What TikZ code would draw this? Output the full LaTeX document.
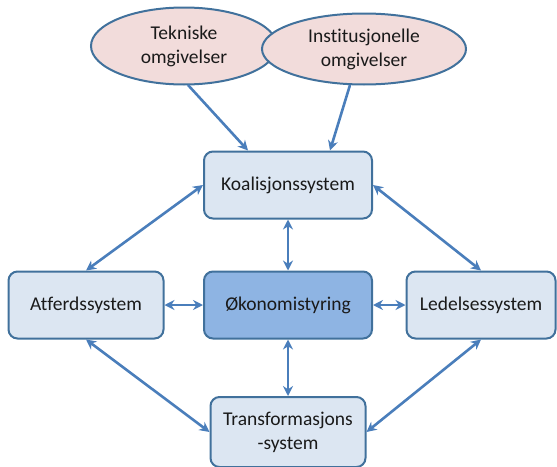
\documentclass[tikz,border=0pt]{standalone}
\usepackage{fontspec}
\setmainfont[Ligatures=NoCommon]{Carlito}
\usetikzlibrary{arrows.meta,shapes.geometric}
\definecolor{boxfill}{HTML}{DCE6F2}
\definecolor{boxdraw}{HTML}{41719C}
\definecolor{midfill}{HTML}{8EB4E3}
\definecolor{ellfill}{HTML}{F2DCDB}
\definecolor{arrowc}{HTML}{4A7EBB}
\definecolor{txt}{HTML}{1A1A1A}
\begin{document}
\begin{tikzpicture}[x=1pt,y=-1pt,
  sysbox/.style={draw=boxdraw,line width=2pt,fill=boxfill,rounded corners=9pt,
    minimum width=#1,minimum height=67pt,inner sep=0pt,align=center,text=txt,
    font=\fontsize{19.5}{24}\selectfont},
  sysbox/.default=168pt,
  env/.style={ellipse,draw=boxdraw,line width=2pt,fill=ellfill,inner sep=0pt,
    align=center,text=txt,font=\fontsize{19.5}{24}\selectfont},
  conn/.style={draw=arrowc,line width=2.6pt,-{Stealth[length=10pt,width=10pt]}},
  biconn/.style={draw=arrowc,line width=2.6pt,{Stealth[length=10pt,width=10pt]}-{Stealth[length=10pt,width=10pt]}}]
\useasboundingbox (0,0) rectangle (557,466);
\node[env,minimum width=186pt,minimum height=77pt] (tek) at (184,46) {Tekniske\\omgivelser};
\node[env,minimum width=204pt,minimum height=71pt] (inst) at (364,49) {Institusjonelle\\omgivelser};
\node[sysbox] (koal) at (288,185) {Koalisjonssystem};
\node[sysbox=155pt] (atf) at (86,305) {Atferdssystem};
\node[sysbox,fill=midfill] (oko) at (288,305) {Økonomistyring};
\node[sysbox=149pt] (led) at (481,305) {Ledelsessystem};
\node[sysbox=155pt,minimum height=70pt] (trans) at (288,432) {Transformasjons\\-system};
\coordinate (tekA) at (188,85);
\coordinate (instA) at (350,85);
\draw[conn] (tekA) -- (koal.north west -| 248,0);
\draw[conn] (instA) -- (koal.north -| 330,0);
\draw[biconn] (koal.west) -- (atf.north);
\draw[biconn] (koal.east) -- (led.north);
\draw[biconn] (koal.south) -- (oko.north);
\draw[biconn] (atf.east) -- (oko.west);
\draw[biconn] (oko.east) -- (led.west);
\draw[biconn] (oko.south) -- (trans.north);
\draw[biconn] (atf.south) -- (trans.west);
\draw[biconn] (led.south) -- (trans.east);
\end{tikzpicture}
\end{document}
